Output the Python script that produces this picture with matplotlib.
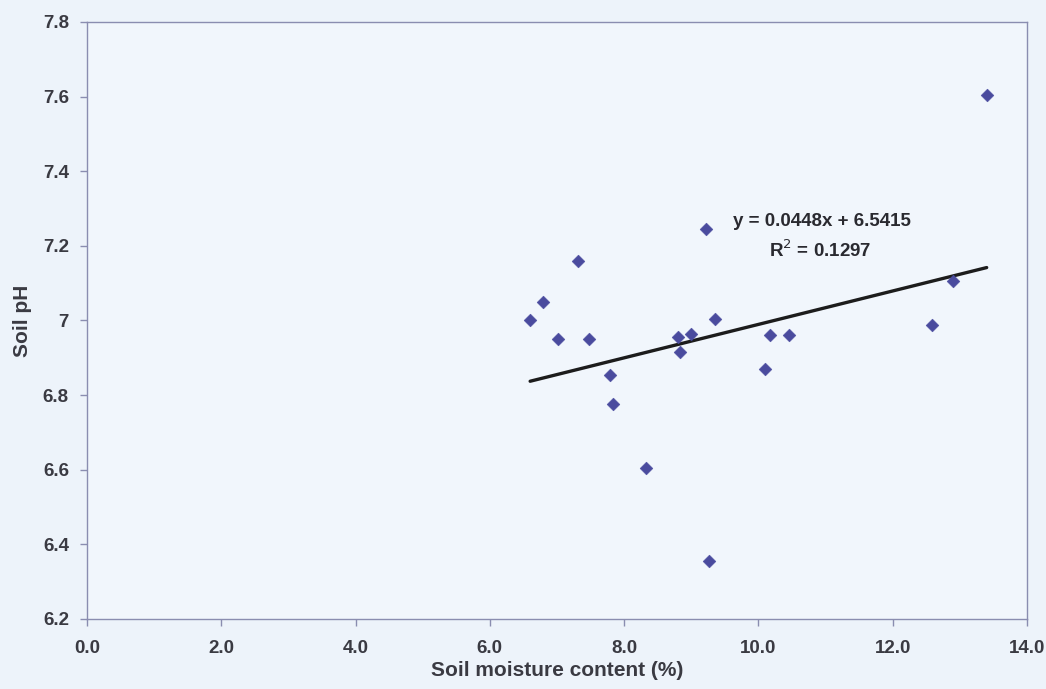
import matplotlib
matplotlib.use("Agg")
import matplotlib.pyplot as plt
import numpy as np

# Soil moisture (%) vs soil pH samples
moisture = [6.60, 6.79, 7.02, 7.32, 7.47, 7.79, 7.84, 8.32, 8.80, 8.83,
            9.00, 9.22, 9.26, 9.35, 10.10, 10.18, 10.46, 12.59, 12.90, 13.40]
soil_ph = [7.000, 7.050, 6.950, 7.160, 6.950, 6.855, 6.775, 6.605, 6.955, 6.915,
           6.963, 7.244, 6.355, 7.003, 6.870, 6.960, 6.960, 6.988, 7.106, 7.605]

# Linear trendline parameters
slope = 0.0448
intercept = 6.5415
r_squared = 0.1297

x_ticks = [0, 2, 4, 6, 8, 10, 12, 14]
x_tick_labels = ["0.0", "2.0", "4.0", "6.0", "8.0", "10.0", "12.0", "14.0"]
y_ticks = [6.2, 6.4, 6.6, 6.8, 7.0, 7.2, 7.4, 7.6, 7.8]
y_tick_labels = ["6.2", "6.4", "6.6", "6.8", "7", "7.2", "7.4", "7.6", "7.8"]

plt.rcParams["font.family"] = ["Liberation Sans", "DejaVu Sans"]

bg = "#edf3fa"
text_col = "#3a3a42"
spine_col = "#8a8db0"

fig = plt.figure(figsize=(10.46, 6.89), dpi=100, facecolor=bg)
ax = fig.add_axes([0.0832, 0.1016, 0.8986, 0.8665], facecolor="#f1f6fc")

ax.scatter(moisture, soil_ph, marker="D", s=42, color="#4a4b9e",
           edgecolors="#4a4b9e", linewidths=0.4, zorder=3)

xs = np.array([min(moisture), max(moisture)])
ax.plot(xs, slope * xs + intercept, color="#1c1c1c", lw=2.4, zorder=2,
        solid_capstyle="round")

ax.text(0.782, 0.665, f"y = {slope:.4f}x + {intercept:.4f}",
        transform=ax.transAxes, ha="center", va="center",
        fontsize=13.5, fontweight="bold", color="#2a2a30")
ax.text(0.780, 0.618, f"R$^2$ = {r_squared:.4f}",
        transform=ax.transAxes, ha="center", va="center",
        fontsize=13.5, fontweight="bold", color="#2a2a30")

ax.set_xlim(0, 14)
ax.set_ylim(6.2, 7.8)
ax.set_xticks(x_ticks)
ax.set_xticklabels(x_tick_labels)
ax.set_yticks(y_ticks)
ax.set_yticklabels(y_tick_labels)

for side in ["left", "right", "top", "bottom"]:
    ax.spines[side].set_color(spine_col)
    ax.spines[side].set_linewidth(1.0)

ax.tick_params(axis="both", direction="out", length=5, width=1,
               color=spine_col, labelsize=13.5, labelcolor=text_col)
ax.tick_params(axis="x", pad=10)
ax.tick_params(axis="y", pad=8)
for lbl in ax.get_xticklabels() + ax.get_yticklabels():
    lbl.set_fontweight("bold")

ax.set_xlabel("Soil moisture content (%)", fontsize=15, fontweight="bold",
              color=text_col, labelpad=3)
ax.set_ylabel("Soil pH", fontsize=15, fontweight="bold", color=text_col,
              labelpad=8)

fig.savefig("out.png", dpi=100, facecolor=bg)
